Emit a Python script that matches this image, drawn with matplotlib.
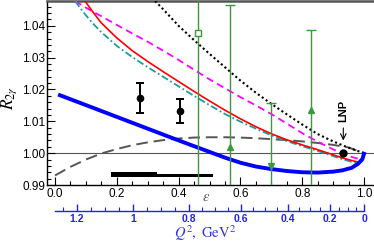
import numpy as np
import matplotlib
matplotlib.use("Agg")
import matplotlib.pyplot as plt
from matplotlib.ticker import MultipleLocator, FixedLocator

plt.rcParams['font.family'] = ['Liberation Sans', 'DejaVu Sans']
plt.rcParams['mathtext.fontset'] = 'stix'

# --- curves, R_2gamma vs epsilon ---
eps_blue = [0.016, 0.10, 0.20, 0.30, 0.40, 0.45, 0.50, 0.55, 0.60, 0.65, 0.70, 0.75,
            0.80, 0.85, 0.90, 0.93, 0.96, 0.98, 0.995, 1.0]
r_blue = [1.0182, 1.0151, 1.0114, 1.0077, 1.0040, 1.0022, 1.0004, 0.9986, 0.9970, 0.9958,
          0.9950, 0.9944, 0.9940, 0.9939, 0.9942, 0.9946, 0.9954, 0.9966, 0.9982, 0.9998]

eps_red = [0.097, 0.12, 0.15, 0.20, 0.25, 0.30, 0.35, 0.40, 0.45, 0.50, 0.55, 0.60, 0.65,
           0.70, 0.75, 0.80, 0.85, 0.90, 0.93, 0.96, 0.985, 0.995, 1.0]
r_red = [1.0478, 1.0447, 1.0409, 1.0362, 1.0322, 1.0288, 1.0256, 1.0225, 1.0194, 1.0164,
         1.0135, 1.0108, 1.0083, 1.0061, 1.0042, 1.0026, 1.0011, 0.9995, 0.9985, 0.9977,
         0.9971, 0.9978, 1.0000]

eps_teal = [0.065, 0.09, 0.12, 0.15, 0.20, 0.25, 0.30, 0.35, 0.40, 0.45, 0.50, 0.55, 0.60,
            0.65, 0.70, 0.75, 0.80, 0.85, 0.90, 0.93, 0.96, 0.985, 0.995, 1.0]
r_teal = [1.0478, 1.0445, 1.0410, 1.0380, 1.0337, 1.0302, 1.0270, 1.0240, 1.0210, 1.0180,
          1.0151, 1.0123, 1.0099, 1.0077, 1.0056, 1.0038, 1.0022, 1.0007, 0.9991, 0.9981,
          0.9973, 0.9968, 0.9975, 0.9995]

eps_mag = [0.065, 0.10, 0.15, 0.20, 0.25, 0.30, 0.35, 0.40, 0.45, 0.50, 0.55, 0.60, 0.65,
           0.70, 0.75, 0.80, 0.85, 0.90, 0.93, 0.96, 0.98, 0.995, 1.0]
r_mag = [1.0478, 1.0457, 1.0430, 1.0403, 1.0376, 1.0350, 1.0322, 1.0293, 1.0262, 1.0232,
         1.0204, 1.0176, 1.0150, 1.0123, 1.0093, 1.0063, 1.0036, 1.0012, 0.9999, 0.9988,
         0.9983, 0.9987, 0.9996]

eps_dot = [0.324, 0.35, 0.40, 0.45, 0.50, 0.55, 0.60, 0.65, 0.70, 0.75, 0.80, 0.85, 0.90,
           0.95, 1.0]
r_dot = [1.0478, 1.0452, 1.0400, 1.0355, 1.0312, 1.0270, 1.0228, 1.0190, 1.0155, 1.0122,
         1.0090, 1.0060, 1.0037, 1.0017, 1.0000]

eps_gray = [0.0, 0.05, 0.10, 0.15, 0.20, 0.25, 0.30, 0.35, 0.40, 0.45, 0.50, 0.55, 0.60,
            0.65, 0.70, 0.75, 0.80, 0.85, 0.90, 0.95, 1.0]
r_gray = [0.9930, 0.9957, 0.9980, 0.9999, 1.0013, 1.0025, 1.0034, 1.0041, 1.0046, 1.0049,
          1.0050, 1.0050, 1.0049, 1.0047, 1.0044, 1.0041, 1.0037, 1.0032, 1.0026, 1.0018,
          1.0000]

# --- data points ---
eps_pts = [0.275, 0.406]
r_pts = [1.0173, 1.0132]
err_pts = [0.0048, 0.0037]

eps_lnp = 0.933
r_lnp = 1.0000

eps_green = [0.463, 0.566, 0.698, 0.8275]
r_green = [1.0376, 1.0018, 0.9961, 1.0136]
err_green = [0.060, 0.0449, 0.0196, 0.0250]
mk_green = ['s', '^', 'v', '^']

# horizontal kinematic bars
bar_thick = (0.181, 0.330)
bar_thin = (0.330, 0.510)

# second axis, Q^2 in GeV^2 at fixed beam energy
q2_major = [1.2, 1.0, 0.8, 0.6, 0.4, 0.2, 0.0]
q2_labels = ['1.2', '1', '0.8', '0.6', '0.4', '0.2', '0']
q2_minor = [1.25, 1.15, 1.1, 1.05, 0.95, 0.9, 0.85, 0.75, 0.7, 0.65, 0.55, 0.5, 0.45,
            0.35, 0.3, 0.25, 0.15, 0.1, 0.05]
E_beam = 1.0
M_p = 0.938


def eps_of_q2(q2):
    q2 = np.asarray(q2, dtype=float)
    s = q2 / (4 * E_beam**2 - 2 * E_beam * q2 / M_p)
    tan2 = s / (1 - s)
    tau = q2 / (4 * M_p**2)
    return 1.0 / (1 + 2 * (1 + tau) * tan2)


W, H = 374, 243
fig = plt.figure(figsize=(W / 100, H / 100), dpi=100)

left, right, bottom, top = 47, 374, 185, 1
ax = fig.add_axes([left / W, 1 - bottom / H, (right - left) / W, (bottom - top) / H])
xmin = (left - 55) / 309
xmax = (right - 55) / 309
ax.set_xlim(xmin, xmax)
ax.set_ylim(0.99, 1.0478)

ax.axhline(1.0, color='#555555', lw=0.8, zorder=1)

ax.plot(eps_gray, r_gray, color='#555555', lw=1.4, ls=(0, (6, 3)), zorder=2)
ax.plot(eps_dot, r_dot, color='black', lw=1.5, ls=(0, (1, 1.3)), zorder=3)
ax.plot(eps_mag, r_mag, color='#ff00ff', lw=1.3, ls=(0, (4, 2.5)), zorder=3)
ax.plot(eps_teal, r_teal, color='#1a9e9e', lw=1.3, ls=(0, (4, 1.5, 1, 1.5)), zorder=3)
ax.plot(eps_red, r_red, color='#ff0000', lw=1.2, zorder=4)
ax.plot(eps_blue, r_blue, color='#0000ff', lw=2.8, zorder=4)

ax.fill_between(bar_thick, 0.9925, 0.9940, color='black', lw=0, zorder=3)
ax.fill_between(bar_thin, 0.9925, 0.9933, color='black', lw=0, zorder=3)

green = '#3c9a3c'
for e, r, er, m in zip(eps_green, r_green, err_green, mk_green):
    face = 'white' if m == 's' else green
    ax.errorbar([e], [r], yerr=[er], fmt=m, color=green, mfc=face, mec=green,
                ms=5 if m == 's' else 4.5, elinewidth=1.0, capsize=3.5, capthick=1.0,
                zorder=5)

ax.errorbar(eps_pts, r_pts, yerr=err_pts, fmt='o', color='black', ms=4.5,
            elinewidth=1.4, capsize=3, capthick=1.4, zorder=6)
ax.plot([eps_lnp], [r_lnp], 'o', color='black', ms=5, zorder=6)
ax.annotate('', xy=(eps_lnp, 1.0031), xytext=(eps_lnp, 1.0088),
            arrowprops=dict(arrowstyle='->', color='black', lw=0.8))
ax.text(eps_lnp, 1.0134, 'LNP', rotation=90, ha='center', va='center',
        fontsize=8, fontweight='bold')

ax.xaxis.set_major_locator(FixedLocator([0.0, 0.2, 0.4, 0.6, 0.8, 1.0]))
ax.xaxis.set_minor_locator(MultipleLocator(0.05))
ax.yaxis.set_major_locator(MultipleLocator(0.01))
ax.yaxis.set_minor_locator(MultipleLocator(0.002))
ax.xaxis.set_major_formatter(plt.FormatStrFormatter('%.1f'))
ax.yaxis.set_major_formatter(plt.FormatStrFormatter('%.2f'))
ax.tick_params(which='both', direction='in', labelsize=8.5, pad=2)
ax.tick_params(which='major', length=6, width=0.8)
ax.tick_params(which='minor', length=3, width=0.8)
ax.tick_params(axis='y', pad=1.5)
ax.spines['right'].set_visible(False)
ax.spines['top'].set_color('#555555')
ax.spines['top'].set_linewidth(1.8)
ax.spines['left'].set_linewidth(1.0)
ax.spines['bottom'].set_linewidth(1.0)

ax.text(0.49, 0.9862, r'$\varepsilon$', color='#555555', fontsize=10.5,
        ha='center', va='center', clip_on=False)
fig.text(9 / W, 1 - 98 / H, r'$R_{2\gamma}$', rotation=90, ha='center', va='center',
         fontsize=12.5)

# Q^2 axis
y2 = 211
ax2 = fig.add_axes([left / W, 1 - y2 / H, (right - left) / W, 0.001])
ax2.set_xlim(xmin, xmax)
ax2.set_yticks([])
for sp in ['left', 'right', 'top']:
    ax2.spines[sp].set_visible(False)
blue = '#2222ee'
ax2.spines['bottom'].set_color(blue)
ax2.spines['bottom'].set_linewidth(1.0)
ax2.spines['bottom'].set_bounds(0.0, 1.0)
ax2.patch.set_visible(False)
ax2.set_xticks(eps_of_q2(q2_major))
ax2.set_xticklabels(q2_labels)
ax2.set_xticks(eps_of_q2(q2_minor), minor=True)
ax2.tick_params(which='both', direction='in', colors=blue, labelsize=7.5, pad=2.5)
ax2.tick_params(which='major', length=5, width=1.0)
ax2.tick_params(which='minor', length=3, width=0.8)
for t in ax2.get_xticklabels():
    t.set_fontweight('bold')

fig.text(205 / W, 1 - 233 / H, r'$Q^2,\ \mathrm{GeV}^2$', color='#3333ee', fontsize=10.5,
         ha='center', va='center')

fig.savefig('out.png', dpi=100)
